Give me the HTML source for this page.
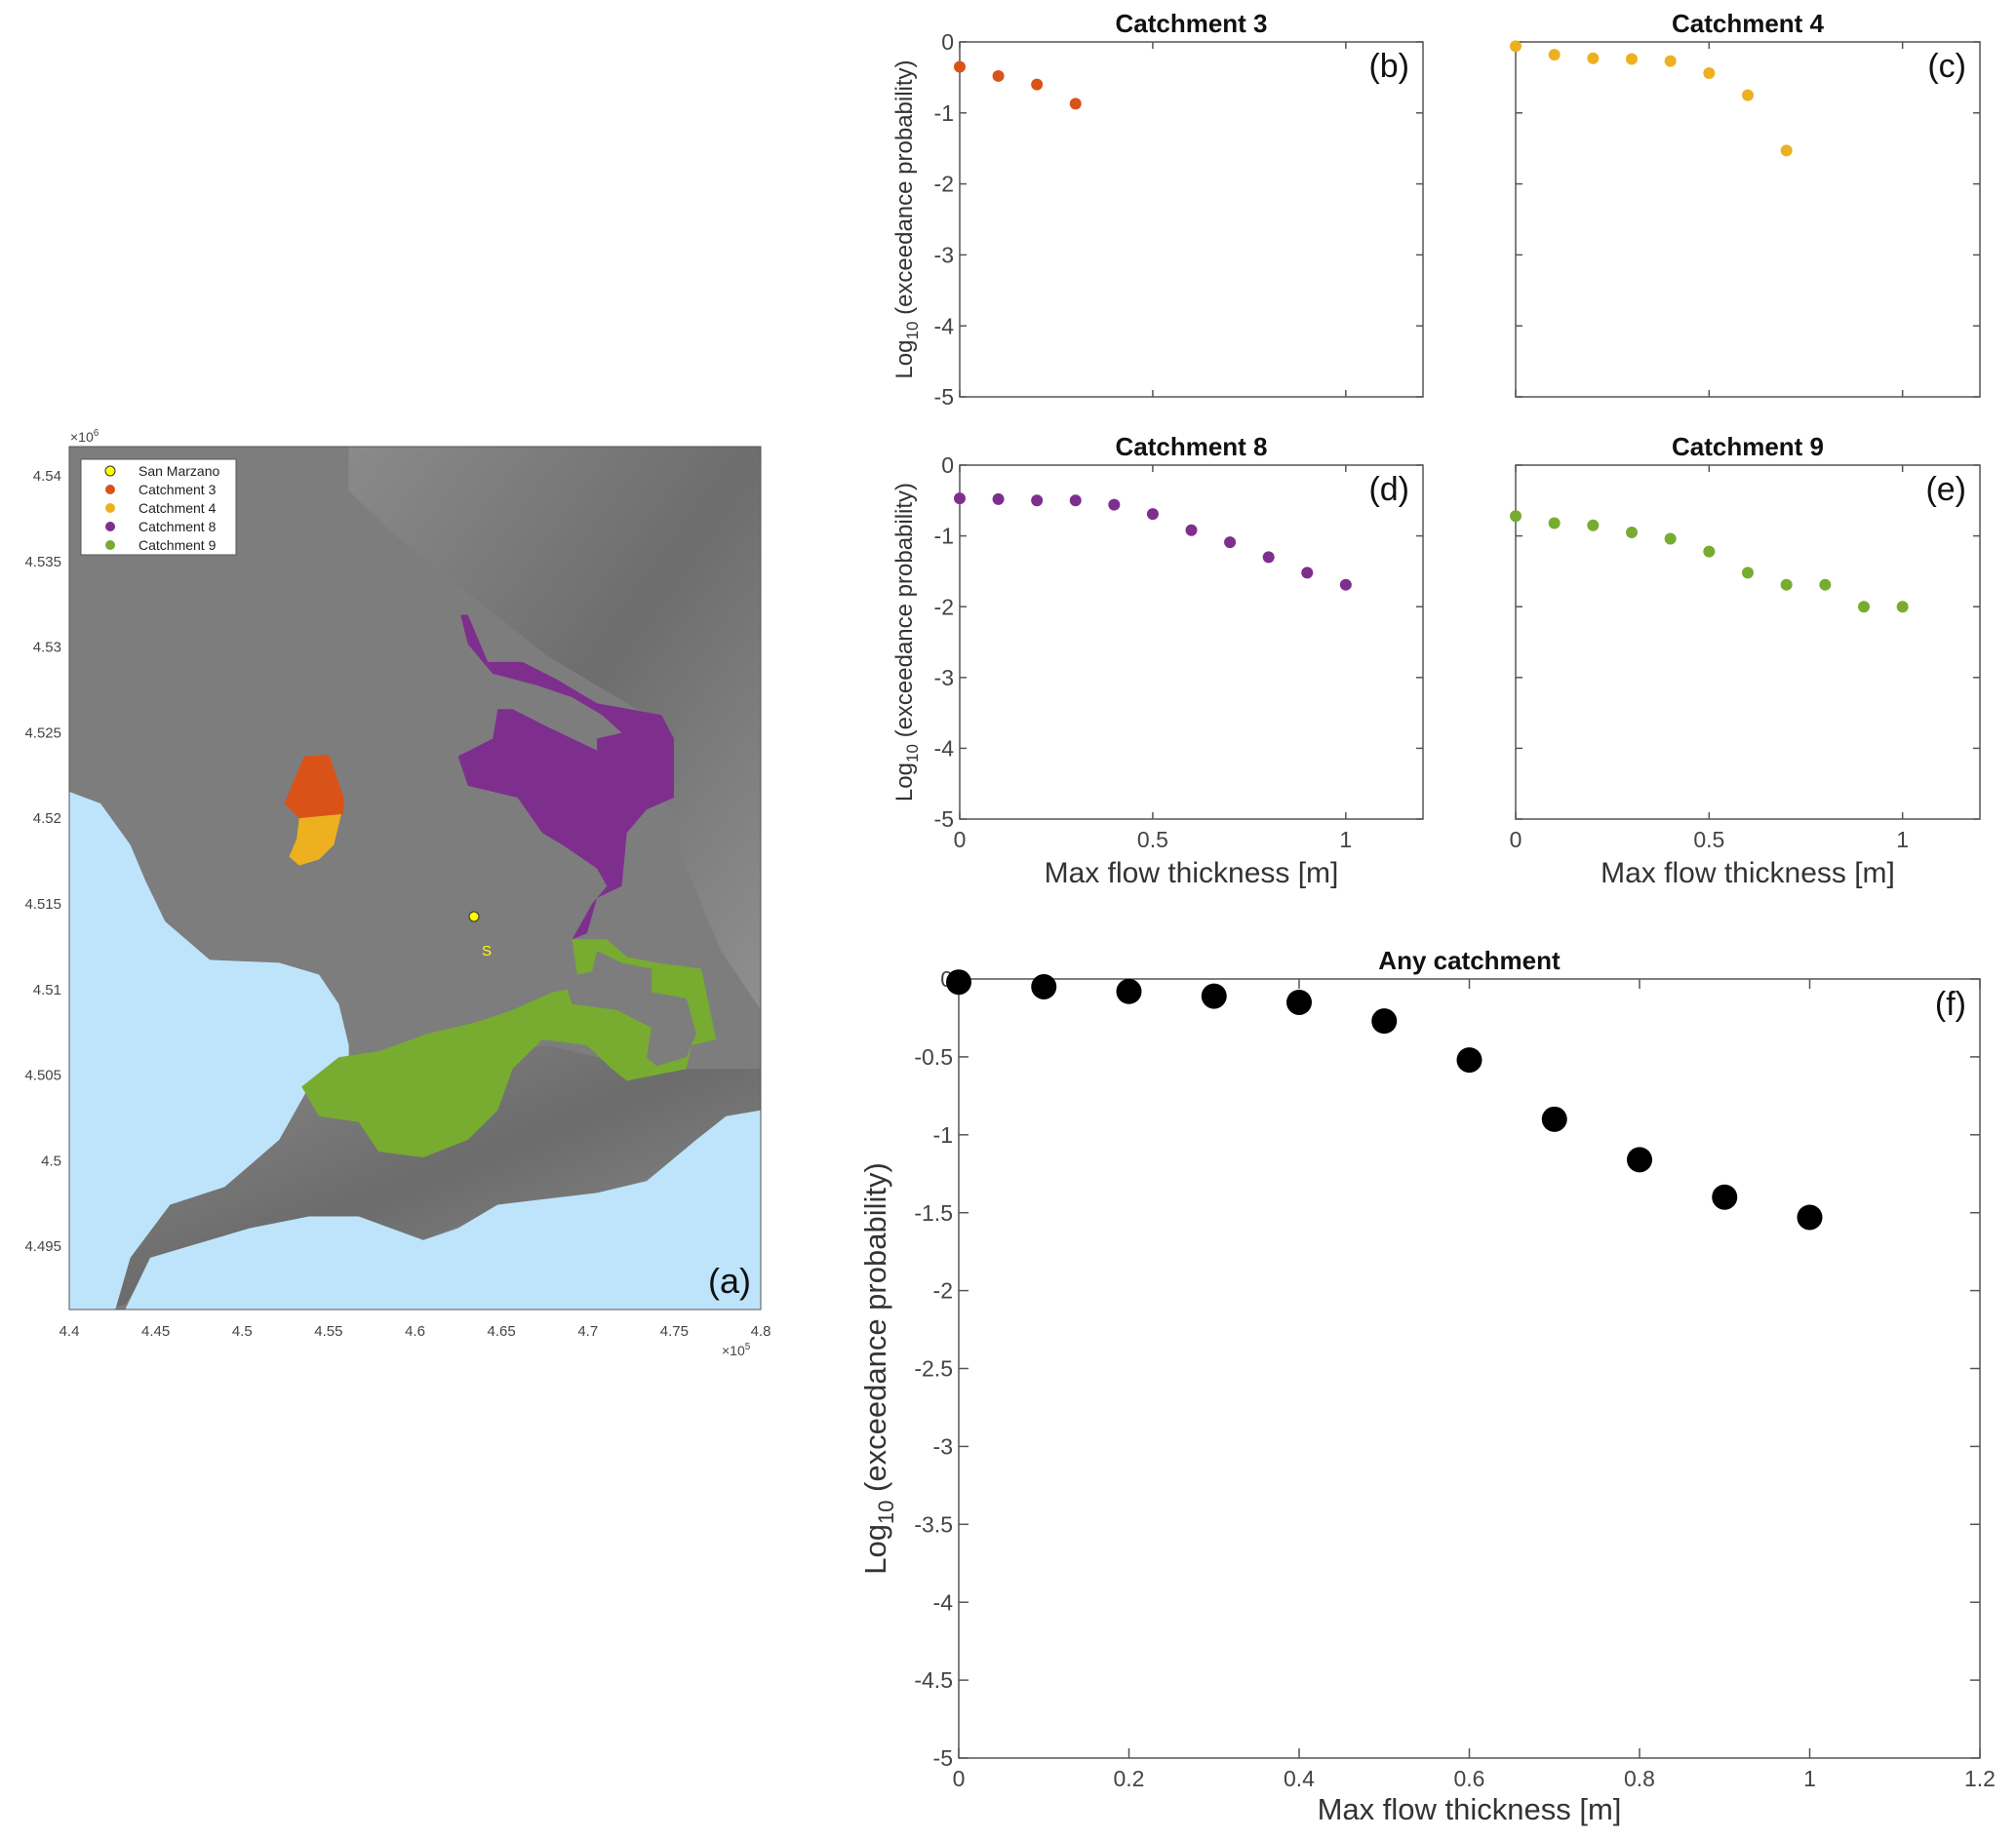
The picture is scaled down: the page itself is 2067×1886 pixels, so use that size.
<!DOCTYPE html>
<html><head><meta charset="utf-8">
<style>
html,body{margin:0;padding:0;background:#fff;}
svg{display:block;font-family:"Liberation Sans","DejaVu Sans",sans-serif;}
</style></head>
<body>
<svg id="root" width="2067" height="1886" viewBox="0 0 2067 1886" xmlns="http://www.w3.org/2000/svg">
<defs>
<clipPath id="mapclip"><rect x="71" y="458" width="709" height="885"/></clipPath>
<linearGradient id="mtn" x1="0" y1="0" x2="1" y2="1">
<stop offset="0" stop-color="#9a9a9a"/><stop offset="0.5" stop-color="#5a5a5a"/><stop offset="1" stop-color="#a5a5a5"/>
</linearGradient>
</defs>
<g id="map">
 <g clip-path="url(#mapclip)">
  <rect x="71" y="458" width="709" height="885" fill="#7d7d7d"/>
  <g transform="translate(1.3,430.8) scale(0.509,0.605)">
   <polygon fill="url(#mtn)" opacity="0.45" points="700,45 1530,45 1530,1000 1450,900 1350,700 1300,500 1100,400 950,300 800,200 700,120"/>
   <polygon fill="url(#mtn)" opacity="0.5" points="560,1180 700,1100 900,1080 1100,1060 1300,1100 1530,1100 1530,1200 1400,1250 1200,1320 1000,1340 850,1390 700,1360 500,1380 300,1430 250,1500 200,1507 300,1330 450,1290"/>
   <polygon fill="#bde4fb" points="137,630 200,650 260,720 290,780 330,850 420,915 560,920 640,940 680,990 700,1060 700,1100 620,1130 560,1220 450,1300 340,1330 260,1420 230,1507 137,1507"/>
   <polygon fill="#bde4fb" points="250,1507 300,1420 380,1400 500,1370 620,1350 720,1350 850,1390 920,1370 1000,1330 1100,1320 1200,1310 1300,1290 1400,1220 1460,1180 1530,1170 1530,1507"/>
   <polygon fill="#d95319" points="570,650 610,570 660,567 690,640 690,668 600,675"/>
   <polygon fill="#edb120" points="600,675 685,668 670,720 640,745 600,755 580,740 595,710"/>
   <polygon fill="#7e2f8e" points="925,330 940,330 980,410 1050,410 1120,440 1200,480 1330,500 1355,540 1355,640 1300,660 1260,700 1250,790 1200,810 1180,870 1150,880 1190,820 1220,790 1200,760 1130,720 1090,700 1040,640 940,620 920,570 990,540 1000,490 1030,490 1100,520 1200,560 1200,540 1250,530 1210,500 1150,470 1080,450 990,430 940,380"/>
   <polygon fill="#77ac30" points="605,1130 680,1080 760,1070 860,1040 960,1020 1030,1000 1110,970 1140,965 1150,990 1240,1000 1310,1030 1300,1080 1320,1095 1380,1080 1400,1040 1380,980 1310,970 1310,930 1250,920 1200,900 1190,935 1160,940 1150,880 1220,880 1260,910 1320,920 1410,930 1440,1050 1390,1060 1380,1100 1260,1120 1230,1100 1180,1060 1090,1050 1030,1100 1000,1170 940,1220 850,1250 760,1240 720,1190 640,1180"/>
  </g>
  <circle cx="486" cy="940" r="5" fill="#ffff00" stroke="#333" stroke-width="1"/>
  <text x="494" y="980" font-size="15" fill="#ffff00">S</text>
  <text x="770" y="1326" font-size="36" fill="#111" text-anchor="end">(a)</text>
 </g>
 <rect x="71" y="458" width="709" height="885" fill="none" stroke="#555" stroke-width="1"/>
 <g>
  <rect x="83" y="471" width="159" height="98" fill="#fff" stroke="#555" stroke-width="1"/>
  <circle cx="113" cy="483" r="5" fill="#ffff00" stroke="#333"/>
  <text x="142" y="488" font-size="14" fill="#222">San Marzano</text>
  <circle cx="113" cy="502" r="5" fill="#d95319"/>
  <text x="142" y="507" font-size="14" fill="#222">Catchment 3</text>
  <circle cx="113" cy="521" r="5" fill="#edb120"/>
  <text x="142" y="526" font-size="14" fill="#222">Catchment 4</text>
  <circle cx="113" cy="540" r="5" fill="#7e2f8e"/>
  <text x="142" y="545" font-size="14" fill="#222">Catchment 8</text>
  <circle cx="113" cy="559" r="5" fill="#77ac30"/>
  <text x="142" y="564" font-size="14" fill="#222">Catchment 9</text>
 </g>
 <g id="mapticks"></g>
 <text x="72" y="453" font-size="14" fill="#444">×10<tspan dy="-6" font-size="10">6</tspan></text>
 <text x="740" y="1390" font-size="14" fill="#444">×10<tspan dy="-6" font-size="10">5</tspan></text>
</g>
<g id="charts"></g>
</svg>
<script>
var mapXTicks = ["4.4","4.45","4.5","4.55","4.6","4.65","4.7","4.75","4.8"];
var mapYTicks = ["4.54","4.535","4.53","4.525","4.52","4.515","4.51","4.505","4.5","4.495"];
var xThick = [0,0.1,0.2,0.3,0.4,0.5,0.6,0.7,0.8,0.9,1.0];
var c3Values = [-0.35,-0.48,-0.6,-0.87];
var c4Values = [-0.06,-0.18,-0.23,-0.24,-0.27,-0.44,-0.75,-1.53];
var c8Values = [-0.47,-0.48,-0.5,-0.5,-0.56,-0.69,-0.92,-1.09,-1.3,-1.52,-1.69];
var c9Values = [-0.72,-0.82,-0.85,-0.95,-1.04,-1.22,-1.52,-1.69,-1.69,-2.0,-2.0];
var anyValues = [-0.02,-0.05,-0.08,-0.11,-0.15,-0.27,-0.52,-0.9,-1.16,-1.4,-1.53];
var smallXTicks = [0,0.5,1];
var smallXTickLabels = ["0","0.5","1"];
var smallYTicks = [0,-1,-2,-3,-4,-5];
var bigXTicks = [0,0.2,0.4,0.6,0.8,1,1.2];
var bigXTickLabels = ["0","0.2","0.4","0.6","0.8","1","1.2"];
var bigYTicks = [0,-0.5,-1,-1.5,-2,-2.5,-3,-3.5,-4,-4.5,-5];
var bigYTickLabels = ["0","-0.5","-1","-1.5","-2","-2.5","-3","-3.5","-4","-4.5","-5"];

var NS="http://www.w3.org/2000/svg";
function mk(tag,attrs,parent){var e=document.createElementNS(NS,tag);for(var k in attrs)e.setAttribute(k,attrs[k]);parent.appendChild(e);return e;}

var mt=document.getElementById('mapticks');
mapXTicks.forEach(function(l,i){
 var x=71+i*(709/8);
 var t=mk('text',{x:x,y:1370,'font-size':15,fill:'#444','text-anchor':'middle'},mt);
 
 
 t.textContent=l;
});
mapYTicks.forEach(function(l,i){
 var y=488+i*87.8;
 var t=mk('text',{x:63,y:y+5,'font-size':15,fill:'#444','text-anchor':'end'},mt);
 
 
 t.textContent=l;
});

var root=document.getElementById('charts');
function chart(o){
 var g=mk('g',{},root);
 
 
 var W=o.r-o.l,H=o.b-o.t;
 function sx(v){return o.l+(v-0)/1.2*W;}
 function sy(v){return o.t+(0-v)/5*H;}
 var fr=mk('rect',{x:o.l,y:o.t,width:W,height:H,fill:'#fff',stroke:'#555','stroke-width':1.5},g);
 
 
 var tl=o.big?10:7;
 o.xt.forEach(function(v,i){
  var x=sx(v);
  mk('line',{x1:x,y1:o.b,x2:x,y2:o.b-tl,stroke:'#555','stroke-width':1.5},g);
  mk('line',{x1:x,y1:o.t,x2:x,y2:o.t+tl,stroke:'#555','stroke-width':1.5},g);
  var t=mk('text',{x:x,y:o.b+o.fs+6,'font-size':o.fs,fill:'#444','text-anchor':'middle'},g);
  
  
  t.textContent=o.xl[i];
 });
 o.yt.forEach(function(v,i){
  var y=sy(v);
  mk('line',{x1:o.l,y1:y,x2:o.l+tl,y2:y,stroke:'#555','stroke-width':1.5},g);
  mk('line',{x1:o.r,y1:y,x2:o.r-tl,y2:y,stroke:'#555','stroke-width':1.5},g);
  var t=mk('text',{x:o.l-6,y:y+o.fs*0.35,'font-size':o.fs,fill:'#444','text-anchor':'end'},g);
  
  
  t.textContent=o.yl[i];
 });
 o.vals.forEach(function(v,i){
  var c=mk('circle',{cx:sx(xThick[i]),cy:sy(v),r:o.mr,fill:o.color},g);
  
  
 });
 var tt=mk('text',{x:(o.l+o.r)/2,y:o.t-10,'font-size':26,'font-weight':'bold',fill:'#111','text-anchor':'middle'},g);
 
 
 tt.textContent=o.title;
 var pl=mk('text',{x:o.r-14,y:o.t+(o.big?37:36),'font-size':34,fill:'#111','text-anchor':'end'},g);
 
 
 pl.textContent=o.panel;
 if(o.xlab){
  var xl=mk('text',{x:(o.l+o.r)/2,y:o.xly,'font-size':o.big?31:30,fill:'#333','text-anchor':'middle'},g);
  
  
  xl.textContent='Max flow thickness [m]';
 }
 if(o.ylab){
  var cy=(o.t+o.b)/2;
  var yl=mk('text',{x:0,y:0,'font-size':o.big?31:24,fill:'#333','text-anchor':'middle',transform:'translate('+o.ylx+','+cy+') rotate(-90)'},g);
  
  
  yl.innerHTML='Log<tspan dy="'+(o.big?8:6)+'" font-size="'+(o.big?22:17)+'">10</tspan><tspan dy="'+(o.big?-8:-6)+'"> (exceedance probability)</tspan>';
 }
}
chart({name:'chart-catchment-3',l:984,r:1459,t:43,b:407,vals:c3Values,color:'#d95319',mr:6,fs:23,xt:smallXTicks,xl:['','',''],yt:smallYTicks,yl:['0','-1','-2','-3','-4','-5'],title:'Catchment 3',panel:'(b)',ylab:true,ylx:935});
chart({name:'chart-catchment-4',l:1554,r:2030,t:43,b:407,vals:c4Values,color:'#edb120',mr:6,fs:23,xt:smallXTicks,xl:['','',''],yt:smallYTicks,yl:['','','','','',''],title:'Catchment 4',panel:'(c)'});
chart({name:'chart-catchment-8',l:984,r:1459,t:477,b:840,vals:c8Values,color:'#7e2f8e',mr:6,fs:23,xt:smallXTicks,xl:smallXTickLabels,yt:smallYTicks,yl:['0','-1','-2','-3','-4','-5'],title:'Catchment 8',panel:'(d)',xlab:true,xly:905,ylab:true,ylx:935});
chart({name:'chart-catchment-9',l:1554,r:2030,t:477,b:840,vals:c9Values,color:'#77ac30',mr:6,fs:23,xt:smallXTicks,xl:smallXTickLabels,yt:smallYTicks,yl:['','','','','',''],title:'Catchment 9',panel:'(e)',xlab:true,xly:905});
chart({name:'chart-any-catchment',big:true,l:983,r:2030,t:1004,b:1803,vals:anyValues,color:'#000',mr:13,fs:23,xt:bigXTicks,xl:bigXTickLabels,yt:bigYTicks,yl:bigYTickLabels,title:'Any catchment',panel:'(f)',xlab:true,xly:1866,ylab:true,ylx:908});
</script>
</body></html>
